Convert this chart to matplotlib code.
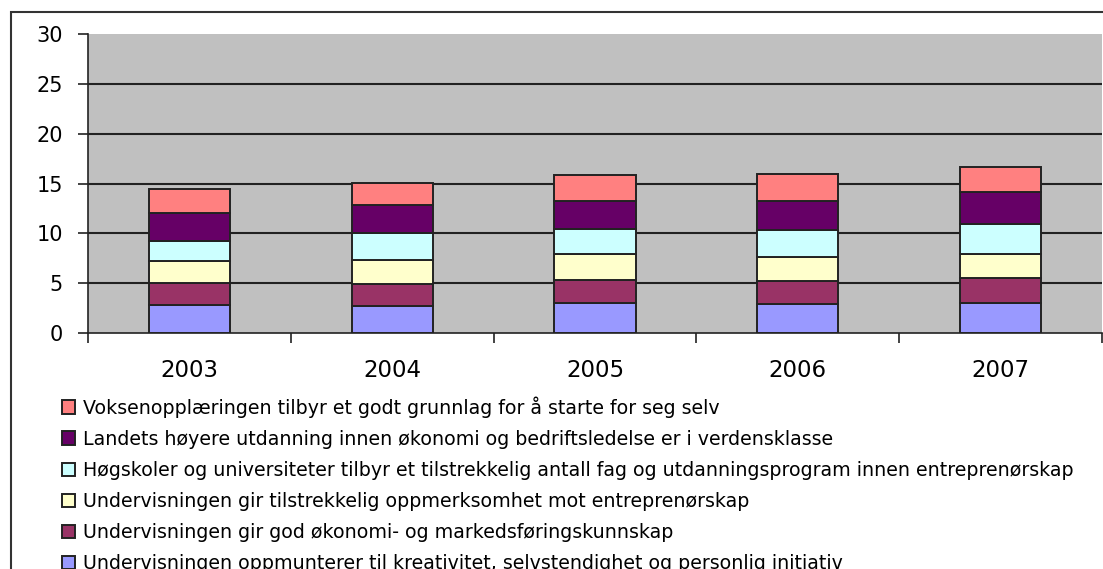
import matplotlib
matplotlib.use("Agg")
import matplotlib.pyplot as plt
import numpy as np
from matplotlib.patches import Rectangle

plt.rcParams['font.family'] = ['DejaVu Sans']

years = ['2003', '2004', '2005', '2006', '2007']

# series, from the bottom of each bar upward
series_names = [
    'Undervisningen oppmunterer til kreativitet, selvstendighet og personlig initiativ',
    'Undervisningen gir god økonomi- og markedsføringskunnskap',
    'Undervisningen gir tilstrekkelig oppmerksomhet mot entreprenørskap',
    'Høgskoler og universiteter tilbyr et tilstrekkelig antall fag og utdanningsprogram innen entreprenørskap',
    'Landets høyere utdanning innen økonomi og bedriftsledelse er i verdensklasse',
    'Voksenopplæringen tilbyr et godt grunnlag for å starte for seg selv',
]
kreativitet = [2.85, 2.75, 3.0, 2.87, 3.0]
okonomi = [2.15, 2.15, 2.33, 2.3, 2.47]
oppmerksomhet = [2.2, 2.4, 2.57, 2.43, 2.43]
fag = [2.05, 2.75, 2.57, 2.77, 3.05]
verdensklasse = [2.75, 2.8, 2.78, 2.88, 3.2]
voksen = [2.4, 2.2, 2.65, 2.75, 2.55]
series_values = [kreativitet, okonomi, oppmerksomhet, fag, verdensklasse, voksen]

colors = ['#9999FF', '#993366', '#FFFFCC', '#CCFFFF', '#660066', '#FF8080']

fig = plt.figure(figsize=(11.03, 5.69), dpi=100)
ax = fig.add_axes([88 / 1103, 1 - 333 / 569, 1014 / 1103, 299 / 569])
ax.set_facecolor('#C0C0C0')

x = np.arange(len(years))
bottom = np.zeros(len(years))
handles = []
for name, vals, col in zip(series_names, series_values, colors):
    b = ax.bar(x, vals, width=0.4, bottom=bottom, color=col,
               edgecolor='#222222', linewidth=1.4, label=name, zorder=3)
    handles.append(b)
    bottom += np.array(vals)

ax.set_xlim(-0.5, len(years) - 0.5)
ax.set_ylim(0, 30)
ax.set_yticks(np.arange(0, 31, 5))
ax.tick_params(axis='y', labelsize=15, length=7, width=1.2, color='#222222', pad=11)
for yv in range(5, 30, 5):
    ax.axhline(yv, color='#222222', linewidth=1.5, zorder=1)

ax.set_xticks(x)
ax.set_xticklabels(years, fontsize=16.5)
ax.set_xticks(np.arange(-0.5, len(years), 1.0), minor=True)
ax.tick_params(axis='x', which='major', length=0, pad=19)
ax.tick_params(axis='x', which='minor', length=7, width=1.2, color='#222222')

for s in ['top', 'right']:
    ax.spines[s].set_visible(False)
ax.spines['left'].set_color('#222222')
ax.spines['bottom'].set_color('#222222')
ax.spines['left'].set_linewidth(1.2)
ax.spines['bottom'].set_linewidth(1.2)

# outer chart frame
fig.add_artist(Rectangle((11 / 1103, -0.2), 1.2, 1.2 - 12 / 569,
                         transform=fig.transFigure, fill=False,
                         edgecolor='#333333', linewidth=1.5))

fig.legend(handles[::-1], series_names[::-1], loc='upper left',
           bbox_to_anchor=(62 / 1103, 1 - 396 / 569), frameon=False,
           fontsize=13.7, handlelength=0.7, handleheight=0.7,
           handletextpad=0.4, labelspacing=0.64, borderpad=0,
           borderaxespad=0)

fig.savefig('out.png', dpi=100)
